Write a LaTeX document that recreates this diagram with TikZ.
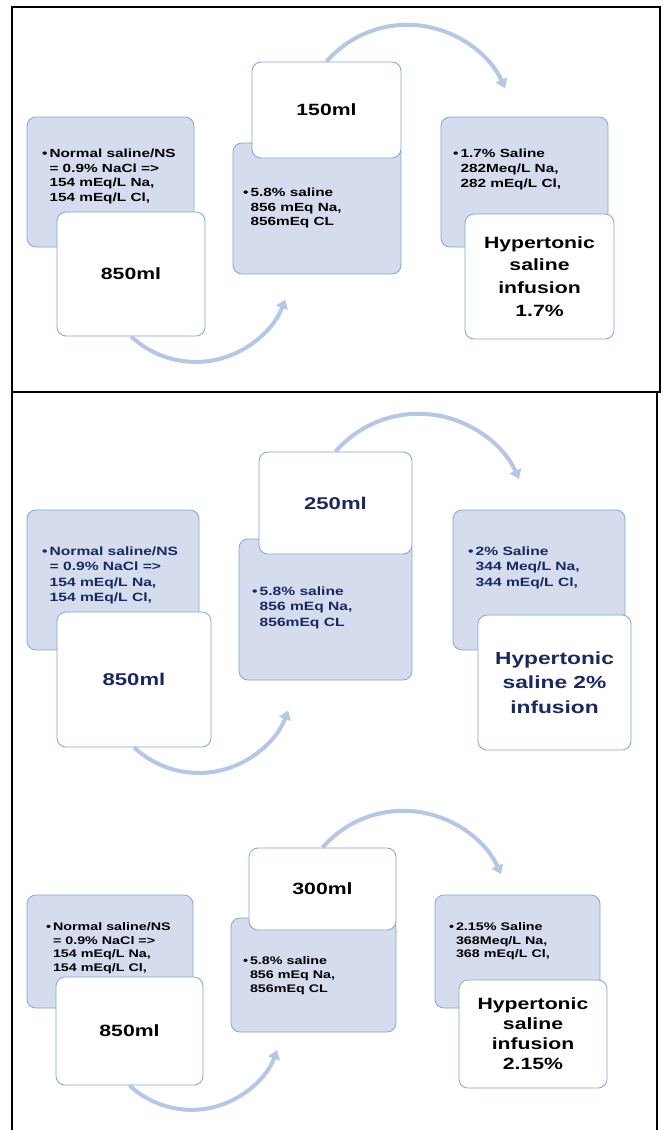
\documentclass[tikz,border=0pt]{standalone}
\usepackage{fontspec}
\setmainfont{Liberation Sans}[FakeStretch=1.3]
\usetikzlibrary{arrows.meta}

\definecolor{boxblue}{RGB}{213,220,238}
\definecolor{edgeblue}{RGB}{126,166,216}
\definecolor{arcblue}{RGB}{180,199,231}
\definecolor{navy}{RGB}{25,41,95}

\begin{document}
\begin{tikzpicture}[x=1pt,y=1pt,yscale=-1,
  bluebox/.style={draw=edgeblue,fill=boxblue,line width=0.8pt,rounded corners=9pt,inner sep=0pt},
  whitebox/.style={draw=edgeblue,fill=white,line width=0.8pt,rounded corners=9pt,inner sep=0pt,align=center},
  note/.style={anchor=north west,inner sep=0pt,align=left},
  curvearrow/.style={draw=arcblue,line width=4pt,-{Triangle[width=12pt,length=9pt,fill=arcblue]}},
  frame/.style={line width=2pt}]
\useasboundingbox (0,0) rectangle (662,1130);

% frames
\draw[frame] (12,7) rectangle (660,392);
\draw[frame] (12,1131) -- (12,392) -- (657,392) -- (657,1131);

% panel 1 : 1.7%
\node[bluebox,minimum width=167,minimum height=130] (na) at (110.5,182) {};
\node[note,font=\bfseries\fontsize{11.8}{14.8}\selectfont] (ta) at (42,148.5) {\textbullet\,Normal saline/NS\\\phantom{\textbullet\,}= 0.9\% NaCl =>\\\phantom{\textbullet\,}154 mEq/L Na,\\\phantom{\textbullet\,}154 mEq/L Cl,};
\node[whitebox,minimum width=148,minimum height=124,font=\bfseries\fontsize{16.3}{21}\selectfont] (nb) at (131,274) {850ml};
\node[bluebox,minimum width=168,minimum height=131] (nc) at (317,208.5) {};
\node[note,font=\bfseries\fontsize{11.8}{14.8}\selectfont] (tc) at (243,187.5) {\textbullet\,5.8\% saline\\\phantom{\textbullet\,}856 mEq Na,\\\phantom{\textbullet\,}856mEq CL};
\node[whitebox,minimum width=149,minimum height=96,font=\bfseries\fontsize{16.3}{21}\selectfont] (nd) at (326.5,110) {150ml};
\node[bluebox,minimum width=167,minimum height=130] (ne) at (524.5,182) {};
\node[note,font=\bfseries\fontsize{11.8}{14.8}\selectfont] (te) at (453,149) {\textbullet\,1.7\% Saline\\\phantom{\textbullet\,}282Meq/L Na,\\\phantom{\textbullet\,}282 mEq/L Cl,};
\node[whitebox,minimum width=149,minimum height=125,font=\bfseries\fontsize{16.3}{22.7}\selectfont] (nf) at (539.5,276.5) {Hypertonic\\saline\\infusion\\1.7\%};
\draw[curvearrow] (nb.south) arc[start angle=133,end angle=20,radius=95];
\draw[curvearrow] (nd.north) arc[start angle=-139,end angle=-24,radius=107];

% panel 2 : 2%
\node[bluebox,minimum width=172,minimum height=140] (na2) at (113,580) {};
\node[note,text=navy,font=\bfseries\fontsize{12}{15.5}\selectfont] (ta2) at (42,546.5) {\textbullet\,Normal saline/NS\\\phantom{\textbullet\,}= 0.9\% NaCl =>\\\phantom{\textbullet\,}154 mEq/L Na,\\\phantom{\textbullet\,}154 mEq/L Cl,};
\node[whitebox,text=navy,minimum width=154,minimum height=135,font=\bfseries\fontsize{17}{21}\selectfont] (nb2) at (134,679.5) {850ml};
\node[bluebox,minimum width=173,minimum height=141] (nc2) at (325.5,609.5) {};
\node[note,text=navy,font=\bfseries\fontsize{12}{15.5}\selectfont] (tc2) at (252,586.5) {\textbullet\,5.8\% saline\\\phantom{\textbullet\,}856 mEq Na,\\\phantom{\textbullet\,}856mEq CL};
\node[whitebox,text=navy,minimum width=153,minimum height=102,font=\bfseries\fontsize{17}{21}\selectfont] (nd2) at (335.5,503) {250ml};
\node[bluebox,minimum width=172,minimum height=140] (ne2) at (539,580) {};
\node[note,text=navy,font=\bfseries\fontsize{12}{15.5}\selectfont] (te2) at (468,546.5) {\textbullet\,2\% Saline\\\phantom{\textbullet\,}344 Meq/L Na,\\\phantom{\textbullet\,}344 mEq/L Cl,};
\node[whitebox,text=navy,minimum width=153,minimum height=135,font=\bfseries\fontsize{17.5}{24.5}\selectfont] (nf2) at (554.5,682.5) {Hypertonic\\saline 2\%\\infusion};
\draw[curvearrow] (nb2.south) arc[start angle=133,end angle=20,radius=95];
\draw[curvearrow] (nd2.north) arc[start angle=-139,end angle=-24,radius=110];

% panel 3 : 2.15%
\node[bluebox,minimum width=166,minimum height=113] (na3) at (110,951.5) {};
\node[note,font=\bfseries\fontsize{11}{13.5}\selectfont] (ta3) at (46,922.5) {\textbullet\,Normal saline/NS\\\phantom{\textbullet\,}= 0.9\% NaCl =>\\\phantom{\textbullet\,}154 mEq/L Na,\\\phantom{\textbullet\,}154 mEq/L Cl,};
\node[whitebox,minimum width=147,minimum height=108,font=\bfseries\fontsize{16.3}{21}\selectfont] (nb3) at (129.5,1031) {850ml};
\node[bluebox,minimum width=165,minimum height=114] (nc3) at (313.5,975) {};
\node[note,font=\bfseries\fontsize{11}{14}\selectfont] (tc3) at (243,956) {\textbullet\,5.8\% saline\\\phantom{\textbullet\,}856 mEq Na,\\\phantom{\textbullet\,}856mEq CL};
\node[whitebox,minimum width=147,minimum height=82,font=\bfseries\fontsize{16.3}{21}\selectfont] (nd3) at (322.5,889) {300ml};
\node[bluebox,minimum width=165,minimum height=113] (ne3) at (517.5,951.5) {};
\node[note,font=\bfseries\fontsize{11}{13.5}\selectfont] (te3) at (449,922.5) {\textbullet\,2.15\% Saline\\\phantom{\textbullet\,}368Meq/L Na,\\\phantom{\textbullet\,}368 mEq/L Cl,};
\node[whitebox,minimum width=148,minimum height=108,font=\bfseries\fontsize{16.3}{20}\selectfont] (nf3) at (533,1034) {Hypertonic\\saline\\infusion\\2.15\%};
\draw[curvearrow] (nb3.south) arc[start angle=133,end angle=20,radius=91];
\draw[curvearrow] (nd3.north) arc[start angle=-139,end angle=-24,radius=107];
\end{tikzpicture}
\end{document}
